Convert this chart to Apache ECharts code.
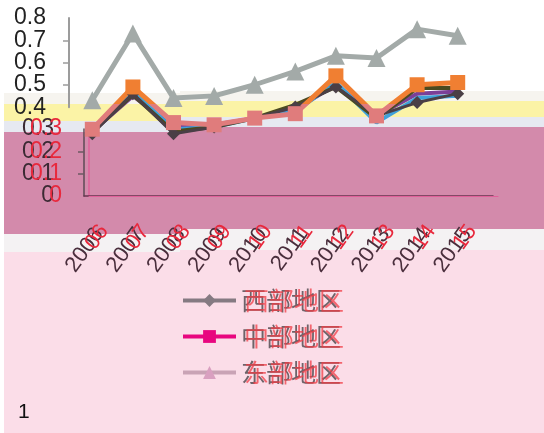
<!DOCTYPE html>
<html>
<head>
<meta charset="utf-8">
<script src="https://cdn.jsdelivr.net/npm/echarts@6/dist/echarts.min.js"></script>
<style>
  html, body { margin: 0; padding: 0; background: #ffffff; }
  #chart { width: 544px; height: 433px; }
</style>
</head>
<body>
<div id="chart"></div>
<script>
// Years on the category axis
var years = ['2006', '2007', '2008', '2009', '2010', '2011', '2012', '2013', '2014', '2015'];

// Regional index values
var eastValues    = [0.43, 0.73, 0.44, 0.45, 0.50, 0.56, 0.63, 0.62, 0.75, 0.72];
var centralValues = [0.30, 0.49, 0.33, 0.32, 0.35, 0.37, 0.54, 0.36, 0.50, 0.51];
var westValues    = [0.28, 0.46, 0.28, 0.31, 0.35, 0.40, 0.49, 0.36, 0.42, 0.46];

// Overprinted trace lines
var blueValues    = [0.29, 0.47, 0.30, 0.31, 0.35, 0.38, 0.51, 0.33, 0.44, 0.45];
var purpleValues  = [0.29, 0.45, 0.31, 0.32, 0.35, 0.39, 0.50, 0.36, 0.46, 0.47];
var oliveValues   = [0.29, 0.455, 0.29, 0.31, 0.35, 0.41, 0.49, 0.35, 0.485, 0.485];

// Legend entries
var legendNames = ['西部地区', '中部地区', '东部地区'];

var chart = echarts.init(document.getElementById('chart'), null, { renderer: 'canvas' });

function fmt(v) { return Math.abs(v) < 1e-9 ? '0' : (+v).toFixed(1); }

// Background colour bands
function band(x, y, w, h, color) {
  return { type: 'rect', z: -100, silent: true,
           shape: { x: x, y: y, width: w, height: h }, style: { fill: color } };
}
var bands = [
  // left part
  band(4, 93, 176, 11, '#f6f4ef'),
  band(4, 104, 176, 17, '#fbf3a6'),
  band(4, 121, 176, 11, '#e6e9f1'),
  band(4, 132, 176, 102, '#d38aab'),
  band(4, 234, 176, 18, '#f4f2f3'),
  band(4, 252, 176, 181, '#fbdde8'),
  // right part
  band(180, 91, 364, 10, '#f6f4ef'),
  band(180, 101, 364, 16, '#fbf3a6'),
  band(180, 117, 364, 10, '#e6e9f1'),
  band(180, 127, 364, 102, '#d38aab'),
  band(180, 229, 364, 21, '#f4f2f3'),
  band(180, 250, 364, 183, '#fbdde8')
];

var numFont = '"Liberation Sans", Arial, sans-serif';
var legendFont = '"Noto Sans CJK SC", sans-serif';

// Inner tick labels (end labels are printed by a companion axis so none get culled)
function innerLabel(color, margin) {
  return { margin: margin, formatter: fmt, showMinLabel: false, showMaxLabel: false,
           color: color, fontSize: 23, fontFamily: numFont };
}
function endLabel(color, margin) {
  return { margin: margin, formatter: fmt, showMinLabel: true, showMaxLabel: true,
           color: color, fontSize: 23, fontFamily: numFont };
}
function endAxis(gridIndex, min, max, color, margin) {
  return { gridIndex: gridIndex, type: 'value', position: 'left', offset: 0,
           min: min, max: max, interval: max - min,
           splitLine: { show: false }, axisLine: { show: false }, axisTick: { show: false },
           axisLabel: endLabel(color, margin) };
}

var option = {
  animation: false,
  backgroundColor: '#ffffff',
  graphic: { elements: bands.concat([
    { type: 'text', left: 18, top: 402, z: 10,
      style: { text: '1', fontSize: 21, fill: '#111111', fontFamily: numFont } }
  ]) },
  grid: [
    { left: 72, top: 18, width: 406, height: 178 },      // plotting area
    { left: 69, top: 18, width: 408, height: 89.2 },     // upper value axis
    { left: 84, top: 129.1, width: 409, height: 66.9 },  // lower value axis + years
    { left: 89, top: 129.1, width: 409, height: 66.9 }   // offset print of the lower axes
  ],
  xAxis: [
    { gridIndex: 0, type: 'category', data: years, show: false },
    { gridIndex: 1, type: 'category', data: years, show: false },
    { gridIndex: 2, type: 'category', data: years,
      axisLine: { lineStyle: { color: '#6a3550', width: 1.5 } },
      axisTick: { length: 6, lineStyle: { color: '#6d5a63', width: 1.5 } },
      axisLabel: { rotate: 54, margin: 27, fontSize: 22, fontFamily: numFont, interval: 0,
        formatter: function (v) { return '{d|' + v + '}'; },
        rich: { d: { color: '#4a2e3c', fontSize: 22, padding: [0, 9, 0, 0] } } } },
    { gridIndex: 3, type: 'category', data: years,
      axisLine: { lineStyle: { color: '#e0609a', width: 1 } },
      axisTick: { length: 6, lineStyle: { color: '#e8508a', width: 1.5 } },
      axisLabel: { rotate: 54, margin: 24, fontSize: 22, fontFamily: numFont, interval: 0,
        formatter: function (v) { return '{h|' + v.slice(0, 2) + '}{r|' + v.slice(2) + '}'; },
        rich: { h: { color: 'rgba(0,0,0,0)', fontSize: 22 },
                r: { color: '#e8283c', fontSize: 22, padding: [0, 9, 0, 0] } } } }
  ],
  yAxis: [
    { gridIndex: 0, type: 'value', min: 0, max: 0.8, show: false },
    { gridIndex: 1, type: 'value', min: 0.4, max: 0.8, interval: 0.1, position: 'left',
      splitLine: { show: false },
      axisLine: { show: true, lineStyle: { color: '#9c9c9c', width: 2 } },
      axisTick: { show: true, length: 6, lineStyle: { color: '#9c9c9c', width: 1.5 } },
      axisLabel: innerLabel('#222222', 23) },
    { gridIndex: 2, type: 'value', min: 0, max: 0.3, interval: 0.1, position: 'left',
      splitLine: { show: false },
      axisLine: { show: true, lineStyle: { color: '#5e4a55', width: 1.5 } },
      axisTick: { show: true, length: 6, lineStyle: { color: '#6d5a63', width: 1.5 } },
      axisLabel: innerLabel('#3b2a33', 30) },
    { gridIndex: 3, type: 'value', min: 0, max: 0.3, interval: 0.1, position: 'left',
      splitLine: { show: false },
      axisLine: { show: true, lineStyle: { color: '#e0609a', width: 1.5 } },
      axisTick: { show: false },
      axisLabel: innerLabel('#e8283c', 27) },
    endAxis(1, 0.4, 0.8, '#222222', 23),
    endAxis(2, 0, 0.3, '#3b2a33', 30),
    endAxis(3, 0, 0.3, '#e8283c', 27)
  ],
  visualMap: {
    show: false, type: 'piecewise', seriesIndex: 4, dimension: 1,
    pieces: [ { gte: 0, lt: 0.415, color: '#e07c7c' }, { gte: 0.415, lte: 1, color: '#f07f32' } ]
  },
  legend: [
    { orient: 'vertical', left: 176, top: 283, itemWidth: 53, itemHeight: 16, itemGap: 11,
      textStyle: { fontSize: 25, color: '#6e6369', fontFamily: legendFont },
      data: [
        { name: '西部地区', itemStyle: { color: '#857a82' }, lineStyle: { color: '#857a82', width: 4 } },
        { name: '中部地区', itemStyle: { color: '#e8067f' }, lineStyle: { color: '#e8067f', width: 4 } },
        { name: '东部地区', itemStyle: { color: '#d9a0c0' }, lineStyle: { color: '#c9a3b5', width: 4 } }
      ] },
    { orient: 'vertical', left: 180, top: 283, itemWidth: 53, itemHeight: 16, itemGap: 11,
      textStyle: { fontSize: 25, color: 'rgba(240,60,70,0.75)', fontFamily: legendFont },
      data: [
        { name: '西部地区', itemStyle: { opacity: 0 }, lineStyle: { opacity: 0 } },
        { name: '中部地区', itemStyle: { opacity: 0 }, lineStyle: { opacity: 0 } },
        { name: '东部地区', itemStyle: { opacity: 0 }, lineStyle: { opacity: 0 } }
      ] }
  ],
  series: [
    { name: 'purple', type: 'line', xAxisIndex: 0, yAxisIndex: 0, data: purpleValues,
      symbol: 'none', lineStyle: { color: '#7b3f98', width: 4 }, itemStyle: { color: '#7b3f98' } },
    { name: 'blue', type: 'line', xAxisIndex: 0, yAxisIndex: 0, data: blueValues,
      symbol: 'none', lineStyle: { color: '#3fa1da', width: 4 }, itemStyle: { color: '#3fa1da' } },
    { name: 'olive', type: 'line', xAxisIndex: 0, yAxisIndex: 0, data: oliveValues,
      symbol: 'none', lineStyle: { color: '#4b4a20', width: 4 }, itemStyle: { color: '#4b4a20' } },
    { name: '西部地区', type: 'line', xAxisIndex: 0, yAxisIndex: 0, data: westValues,
      symbol: 'diamond', symbolSize: 13, lineStyle: { color: '#4a3f46', width: 3 }, itemStyle: { color: '#4a3f46' } },
    { name: '中部地区', type: 'line', xAxisIndex: 0, yAxisIndex: 0, data: centralValues,
      symbol: 'rect', symbolSize: 15, lineStyle: { width: 5 } },
    { name: '东部地区', type: 'line', xAxisIndex: 0, yAxisIndex: 0, data: eastValues,
      symbol: 'triangle', symbolSize: 18, lineStyle: { color: '#a3aaa8', width: 5 }, itemStyle: { color: '#a3aaa8' } }
  ]
};

chart.setOption(option);
</script>
</body>
</html>
